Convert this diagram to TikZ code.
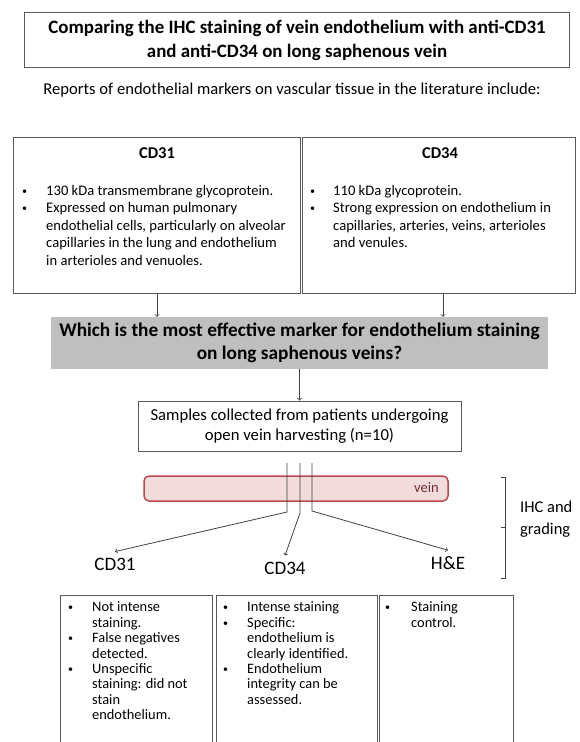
\documentclass[tikz,border=0pt]{standalone}
\usepackage{fontspec}
\setmainfont{Carlito}
\usepackage{xcolor}
\usepackage{tikz}
\usetikzlibrary{arrows, positioning}
\definecolor{BoxGrey}{HTML}{595959}
\definecolor{QuestionGrey}{HTML}{BFBFBF}
\definecolor{VeinFill}{HTML}{F2DCDB}
\definecolor{VeinRed}{HTML}{BA4A50}
\definecolor{ArrowGrey}{HTML}{404040}
\newcommand{\fsz}[2]{\fontsize{#1bp}{#2bp}\selectfont}
\newcommand{\bull}{\raisebox{1bp}{\fontsize{10bp}{10bp}\selectfont\textbullet}}

\begin{document}
\begin{tikzpicture}[x=1bp, y=-1bp,
    box/.style={draw=BoxGrey, line width=1bp, inner sep=0pt},
    txt/.style={inner sep=0pt, align=left, anchor=north west},
    arr/.style={->, ArrowGrey, line width=0.8bp},
    lbl/.style={font=\fsz{19}{22}, inner sep=6bp}]
  \useasboundingbox (0,0) rectangle (580,742);

  \node (title) [box, minimum width=544bp, minimum height=54bp, align=center, font=\bfseries\fsz{18.9}{24}] at (297,40) {Comparing the IHC staining of vein endothelium with anti-CD31\\and anti-CD34 on long saphenous vein};
  \node (reports) [font=\fsz{16.6}{19}] at (292,90) {Reports of endothelial markers on vascular tissue in the literature include:};

  % marker boxes
  \node (cd31box) [box, minimum width=286bp, minimum height=156bp] at (157,215) {};
  \node (cd34box) [box, minimum width=273bp, minimum height=156bp] at (438.5,215) {};
  \node (cd31head) [font=\bfseries\fsz{16.5}{19}] at (157,153) {CD31};
  \node (cd34head) [font=\bfseries\fsz{16.5}{19}] at (440,153) {CD34};
  \node (cd31txt) [txt, font=\fsz{14.6}{17.5}] at (22,183) {\begin{tabular}{@{}p{24bp}@{}l@{}}
    \bull & 130 kDa transmembrane glycoprotein.\\
    \bull & Expressed on human pulmonary\\
    & endothelial cells, particularly on alveolar\\
    & capillaries in the lung and endothelium\\
    & in arterioles and venuoles.
  \end{tabular}};
  \node (cd34txt) [txt, font=\fsz{14.6}{17.5}] at (310,183) {\begin{tabular}{@{}p{23bp}@{}l@{}}
    \bull & 110 kDa glycoprotein.\\
    \bull & Strong expression on endothelium in\\
    & capillaries, arteries, veins, arterioles\\
    & and venules.
  \end{tabular}};

  \node (question) [fill=QuestionGrey, inner sep=0pt, minimum width=497bp, minimum height=52bp, align=center, font=\bfseries\fsz{19.3}{23}] at (299.5,343) {Which is the most effective marker for endothelium staining\\on long saphenous veins?};
  \draw [arr] (cd31box.south) -- (cd31box.south |- question.north);
  \draw [arr] ([xshift=4.5bp]cd34box.south) -- ([xshift=4.5bp]cd34box.south |- question.north);

  \node (samples) [box, minimum width=323bp, minimum height=50bp, align=center, font=\fsz{16.7}{20}] at (299.5,426) {Samples collected from patients undergoing\\open vein harvesting (n=10)};
  \draw [arr] (question) -- (samples);

  % vein and staining
  \node (vein) [draw=VeinRed, line width=1.5bp, fill=VeinFill, rounded corners=5bp, minimum width=304bp, minimum height=25bp, inner sep=0pt] at (296,488.5) {};
  \node (veinlbl) [font=\fsz{14.5}{16}, text=VeinRed!60!black, anchor=east, inner sep=0pt] at (439,488) {vein};

  \coordinate (s1) at (287,463);
  \coordinate (s2) at (300,463);
  \coordinate (s3) at (312,463);
  \coordinate (b1) at (287,512);
  \coordinate (b2) at (300,513);
  \coordinate (b3) at (312,511);
  \node (lab31) [lbl] at (115,564) {CD31};
  \node (lab34) [lbl] at (285,568) {CD34};
  \node (labhe) [lbl] at (448,563) {H\&E};
  \draw [arr] (s1) -- (b1) -- (lab31.north);
  \draw [arr] (s2) -- (b2) -- (lab34.north);
  \draw [arr] (s3) -- (b3) -- (labhe.north);

  \draw [ArrowGrey, line width=0.8bp] (501,477) -- (505,477) -- (505,578) -- (501,578) (505,527) -- (501,527);
  \node (ihc) [anchor=west, align=left, font=\fsz{16.5}{21.5}, inner sep=0pt] at (520,519) {IHC and\\grading};

  % results
  \node (res31) [box, anchor=north west, minimum width=152bp, minimum height=170bp] at (60,595) {};
  \node (res34) [box, anchor=north west, minimum width=161bp, minimum height=170bp] at (216,595) {};
  \node (reshe) [box, anchor=north west, minimum width=134bp, minimum height=170bp] at (379,595) {};
  \node (res31txt) [txt, font=\fsz{14.4}{15.4}] at (68,601) {\begin{tabular}{@{}p{24bp}@{}l@{}}
    \bull & Not intense\\
    & staining.\\
    \bull & False negatives\\
    & detected.\\
    \bull & Unspecific\\
    & staining: did not\\
    & stain\\
    & endothelium.
  \end{tabular}};
  \node (res34txt) [txt, font=\fsz{14.4}{15.4}] at (223,601) {\begin{tabular}{@{}p{24bp}@{}l@{}}
    \bull & Intense staining\\
    \bull & Specific:\\
    & endothelium is\\
    & clearly identified.\\
    \bull & Endothelium\\
    & integrity can be\\
    & assessed.
  \end{tabular}};
  \node (reshetxt) [txt, font=\fsz{14.4}{15.4}] at (385,601) {\begin{tabular}{@{}p{26bp}@{}l@{}}
    \bull & Staining\\
    & control.
  \end{tabular}};
\end{tikzpicture}
\end{document}
